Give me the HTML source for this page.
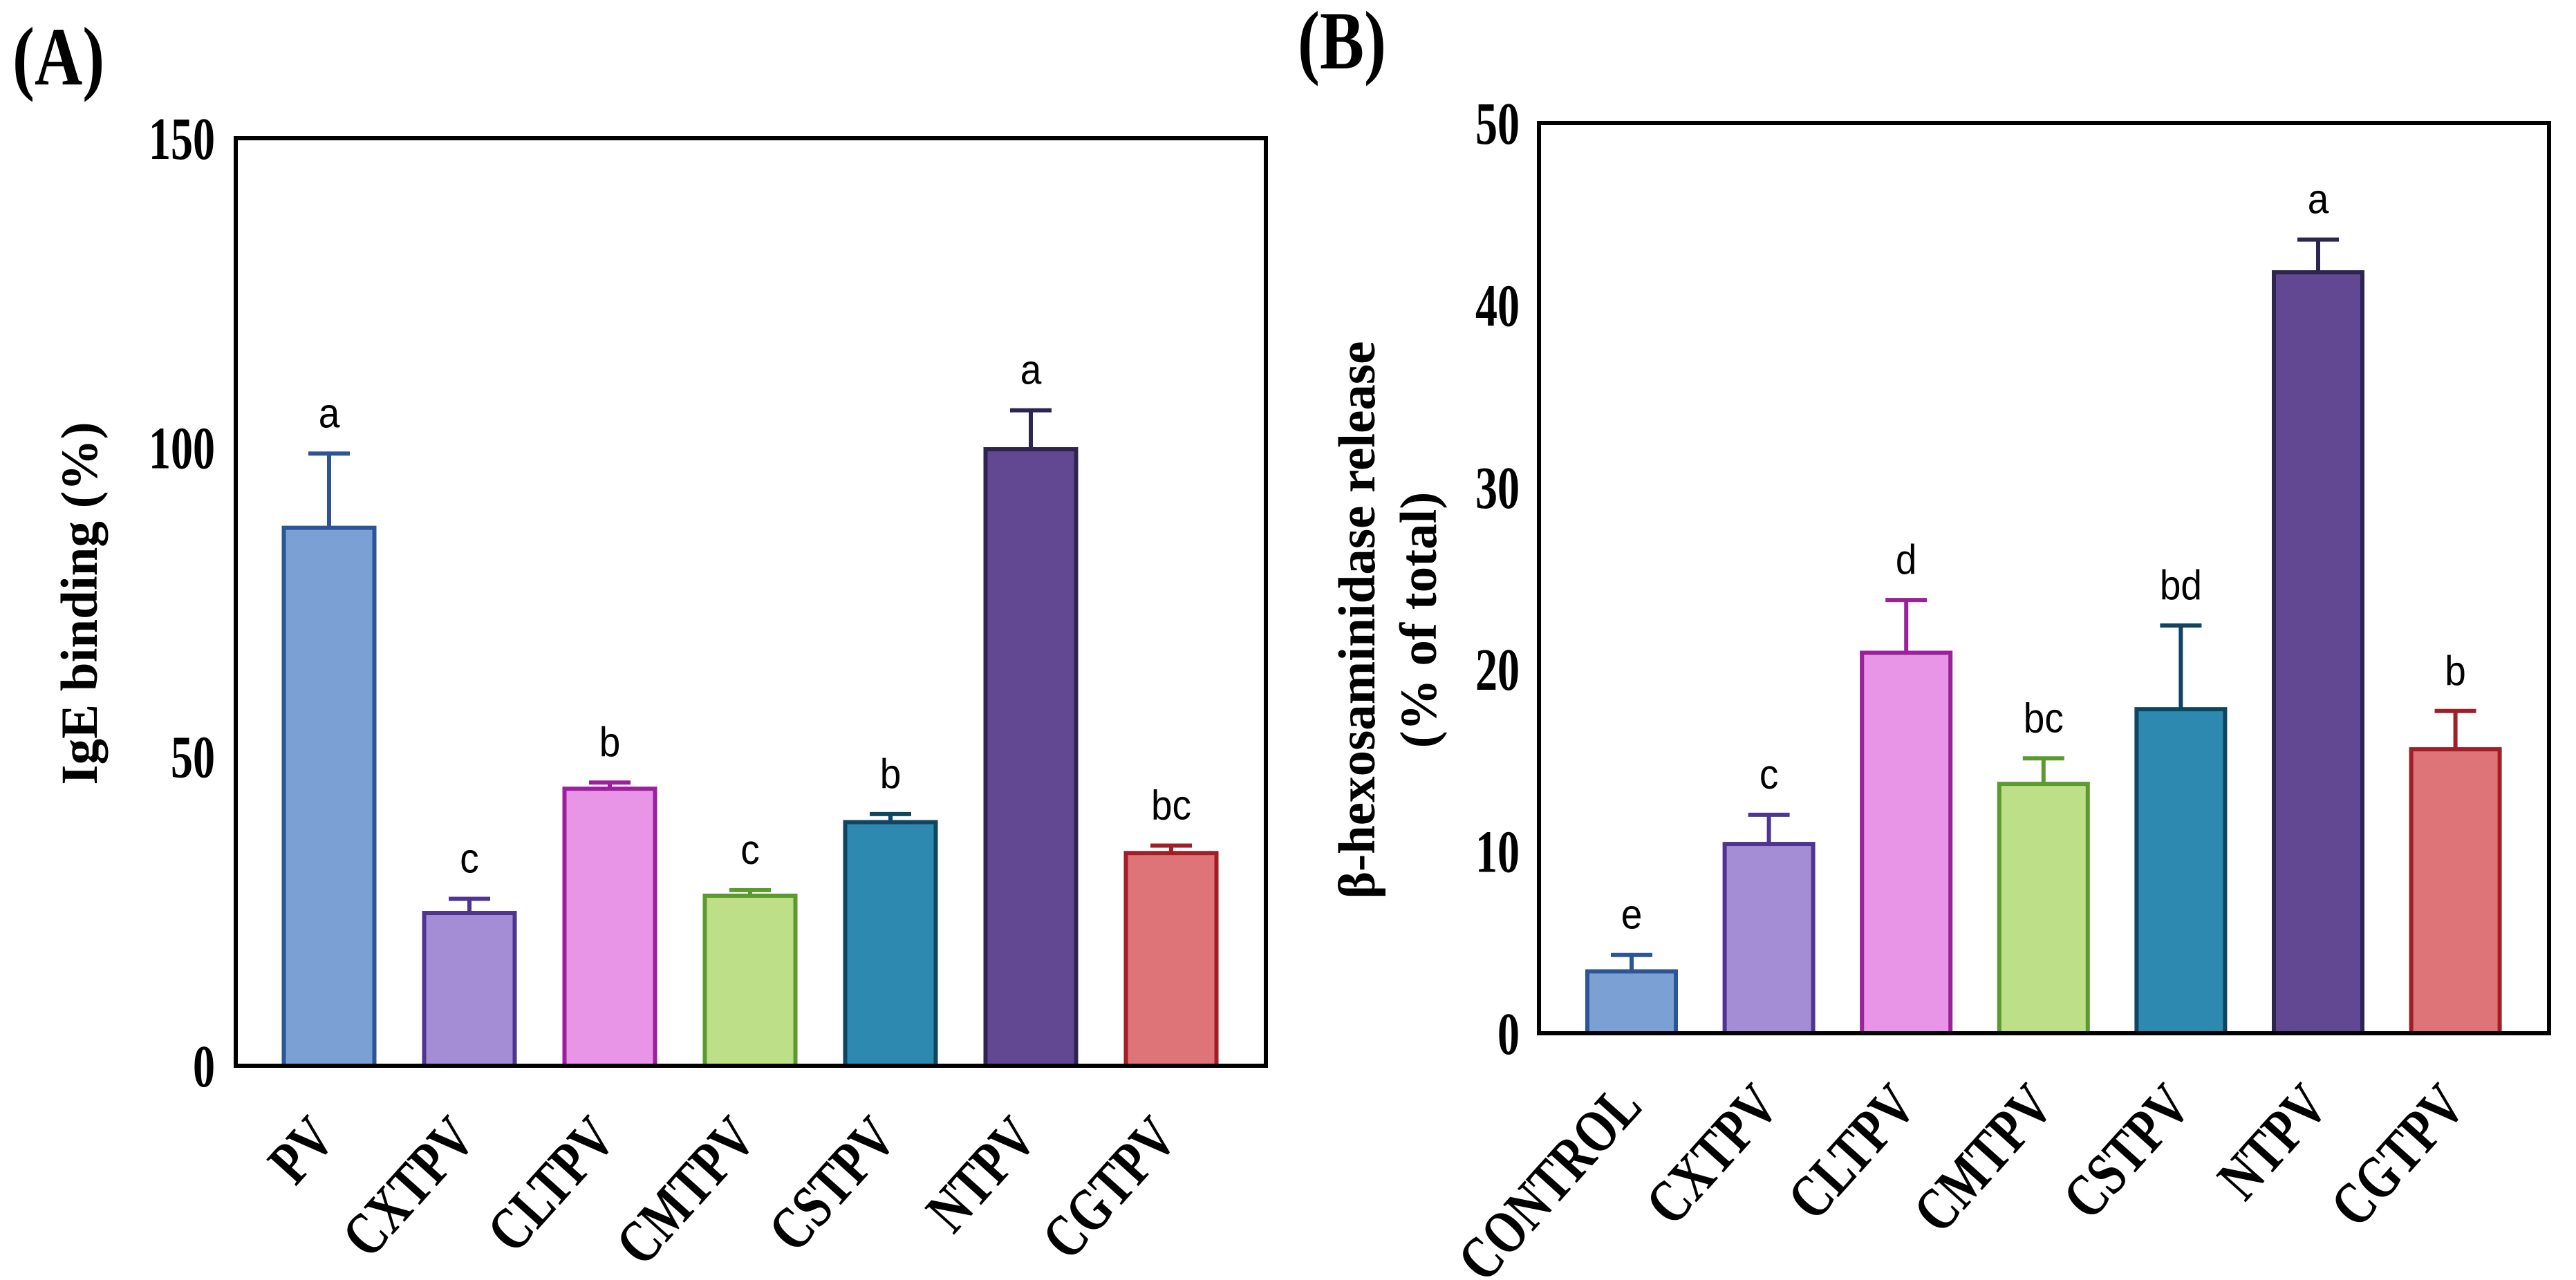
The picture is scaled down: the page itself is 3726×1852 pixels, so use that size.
<!DOCTYPE html>
<html><head><meta charset="utf-8"><style>
html,body{margin:0;padding:0;background:#fff;}
svg{display:block;}
text{font-family:"Liberation Serif",serif;}
.sans{font-family:"Liberation Sans",sans-serif;}
</style></head>
<body>
<svg id="fig" width="3726" height="1852" viewBox="0 0 3726 1852" xmlns="http://www.w3.org/2000/svg"></svg>
<script>
// Panel A data
const catsA = ["PV","CXTPV","CLTPV","CMTPV","CSTPV","NTPV","CGTPV"];
const valsA = [87, 24.7, 44.8, 27.5, 39.4, 99.7, 34.4];
const errA  = [12, 2.3, 1.0, 0.9, 1.3, 6.3, 1.2];
const letA  = ["a","c","b","c","b","a","bc"];
const ticksA = [0, 50, 100, 150];
// Panel B data
const catsB = ["CONTROL","CXTPV","CLTPV","CMTPV","CSTPV","NTPV","CGTPV"];
const valsB = [3.4, 10.4, 20.9, 13.7, 17.8, 41.8, 15.6];
const errB  = [0.9, 1.6, 2.9, 1.4, 4.6, 1.8, 2.1];
const letB  = ["e","c","d","bc","bd","a","b"];
const ticksB = [0, 10, 20, 30, 40, 50];

const fills = ["#7ba1d4","#a48dd4","#e895e8","#bcdf88","#2e89b0","#624892","#df7478"];
const strokes = ["#2c5496","#4e3590","#9c1f9c","#5a9a2e","#0f4560","#2e2450","#a21e26"];

const NS = "http://www.w3.org/2000/svg";
const svg = document.getElementById("fig");
function el(tag, attrs, parent, txt){
  const e = document.createElementNS(NS, tag);
  for (const k in attrs) e.setAttribute(k, attrs[k]);
  if (txt !== undefined) e.textContent = txt;
  (parent || svg).appendChild(e);
  return e;
}
const SY = 1.35;

function panel(cfg){
  const g = el("g", {});
  
  
  const {L,R,T,B,max,cats,vals,errs,lets,ticks,x0,step,bw} = cfg;
  const y = v => B - (v/max)*(B-T);
  const x = i => x0 + i*step;
  cats.forEach((c,i)=>{
    const cx = x(i);
    const top = y(vals[i]), et = y(vals[i]+errs[i]);
    const eb = el("line",{x1:cx,y1:top,x2:cx,y2:et,stroke:strokes[i],"stroke-width":6},g);
    
    
    const cap = el("line",{x1:cx-30,y1:et,x2:cx+30,y2:et,stroke:strokes[i],"stroke-width":6},g);
    
    
    const r = el("rect",{x:cx-bw/2,y:top,width:bw,height:B-top,fill:fills[i],stroke:strokes[i],"stroke-width":6},g);
    
    
    const lt = el("text",{x:0,y:0,"font-size":55,"text-anchor":"middle",class:"sans",fill:"#000",transform:`translate(${cx} ${et-38}) scale(1 1.1)`},g,lets[i]);
    
    
    const ax = cx + cfg.labDx, ay = B + cfg.labDy;
    const cl = el("text",{x:0,y:0,"font-size":cfg.labFs,"font-weight":"bold","text-anchor":"end",transform:`translate(${ax} ${ay}) rotate(-48) scale(1 1.3)`},g,c);
    
    
  });
  const fr = el("rect",{x:L,y:T,width:R-L,height:B-T,fill:"none",stroke:"#000","stroke-width":6},g);
  
  
  ticks.forEach(t=>{
    const tt = el("text",{x:0,y:0,"font-size":64,"font-weight":"bold","text-anchor":"end",transform:`translate(${cfg.tickX} ${y(t)+30}) scale(1 ${SY})`},g,String(t));
    
    
  });
}

panel({name:"panel-a-chart",L:341,R:1831,T:200,B:1542,max:150,cats:catsA,vals:valsA,errs:errA,lets:letA,ticks:ticksA,
  x0:476,step:203,bw:131,tickX:311,labDx:12,labDy:108,labFs:68});
panel({name:"panel-b-chart",L:2226,R:3687,T:178,B:1495,max:50,cats:catsB,vals:valsB,errs:errB,lets:letB,ticks:ticksB,
  x0:2360,step:198.6,bw:128,tickX:2198,labDx:18,labDy:108,labFs:68});

let t;
t = el("text",{x:0,y:0,"font-size":96,"font-weight":"bold",transform:`translate(18 122) scale(1 1.25)`},svg,"(A)");


t = el("text",{x:0,y:0,"font-size":96,"font-weight":"bold",transform:`translate(1877 99) scale(1 1.25)`},svg,"(B)");


t = el("text",{x:140,y:873,"font-size":75,"font-weight":"bold","text-anchor":"middle",transform:"rotate(-90 140 873)"},svg,"IgE binding (%)");


t = el("text",{x:1988,y:897,"font-size":75,"font-weight":"bold","text-anchor":"middle",transform:"rotate(-90 1988 897)"},svg,"β-hexosaminidase release");


t = el("text",{x:2077,y:897,"font-size":75,"font-weight":"bold","text-anchor":"middle",transform:"rotate(-90 2077 897)"},svg,"(% of total)");


</script>
</body></html>
